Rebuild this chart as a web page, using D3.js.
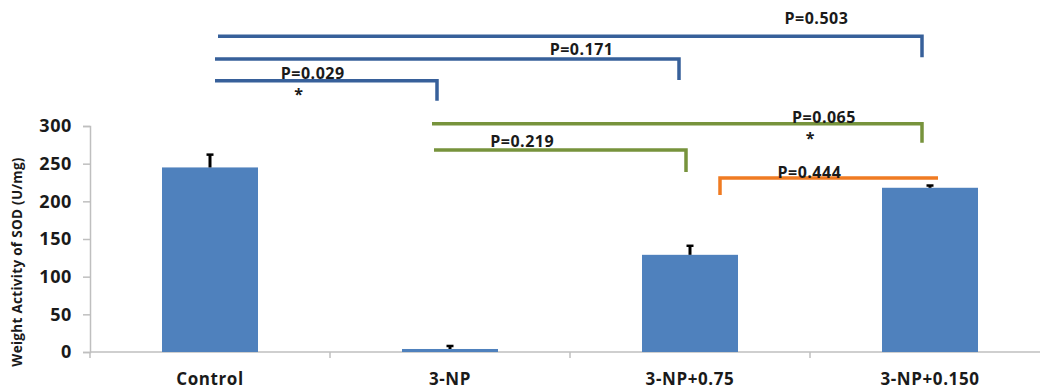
<!DOCTYPE html>
<html>
<head>
<meta charset="utf-8">
<script src="https://cdn.jsdelivr.net/npm/d3@7"></script>
<style>
  body { margin: 0; background: #fff; }
  text { font-family: "Open Sans", sans-serif; font-weight: bold; fill: #1a1a1a; }
</style>
</head>
<body>
<div id="chart"></div>
<script>
// data
var categories = ["Control", "3-NP", "3-NP+0.75", "3-NP+0.150"];
var sodValues = [245, 4, 129, 218];
var sodErrors = [17, 4, 12, 3];
var yTicks = [0, 50, 100, 150, 200, 250, 300];

// significance brackets: group pairs, p values, level (in U/mg units), star
var bracketFrom = ["Control", "Control", "Control", "3-NP", "3-NP", "3-NP+0.75"];
var bracketTo = ["3-NP+0.150", "3-NP+0.75", "3-NP", "3-NP+0.150", "3-NP+0.75", "3-NP+0.150"];
var bracketP = ["P=0.503", "P=0.171", "P=0.029", "P=0.065", "P=0.219", "P=0.444"];
var bracketLevel = [419, 389, 360, 303, 268, 231];
var bracketStar = [false, false, true, true, false, false];

// drawing layout for brackets (pixel insets, drop side, label placement)
var bracketLayout = [
  {color: "#37609a", x0: 8, x1: -8, drop: "right", len: 21, frac: 0.85, dy: -12},
  {color: "#37609a", x0: 5, x1: -11, drop: "right", len: 21, frac: 0.79, dy: -4},
  {color: "#37609a", x0: 5, x1: -13, drop: "right", len: 20, frac: 0.44, dy: -2},
  {color: "#77933c", x0: -18, x1: -8, drop: "right", len: 19, frac: 0.80, dy: -1},
  {color: "#77933c", x0: -16, x1: -4, drop: "right", len: 22, frac: 0.35, dy: -3},
  {color: "#f07b22", x0: 30, x1: 8, drop: "left", len: 17, frac: 0.41, dy: 0}
];

var width = 1040, height = 389;

var svg = d3.select("#chart").append("svg")
    .attr("width", width)
    .attr("height", height);

var x = d3.scaleBand()
    .domain(categories)
    .range([90, 1050])
    .paddingInner(0.6)
    .paddingOuter(0.3);

var y = d3.scaleLinear()
    .domain([0, 300])
    .range([352, 126]);

function center(c) { return x(c) + x.bandwidth() / 2; }

// y axis
var yAxis = svg.append("g")
    .attr("transform", "translate(90,0)")
    .call(d3.axisLeft(y).tickValues(yTicks).tickSize(7).tickPadding(11));
yAxis.select(".domain").attr("stroke", "#bfbfbf").attr("stroke-width", 1.5);
yAxis.selectAll(".tick line").attr("stroke", "#bfbfbf").attr("stroke-width", 1.5);
yAxis.selectAll(".tick text")
    .style("font-size", "18px")
    .style("letter-spacing", "0.6px")
    .attr("fill", "#1a1a1a");

// x axis line and category boundary ticks
svg.append("line")
    .attr("x1", 90).attr("x2", width)
    .attr("y1", y(0)).attr("y2", y(0))
    .attr("stroke", "#bfbfbf").attr("stroke-width", 1.5);

svg.selectAll(".xtick")
    .data(categories)
    .enter().append("line")
    .attr("class", "xtick")
    .attr("x1", function(d) { return center(d) - x.step() / 2; })
    .attr("x2", function(d) { return center(d) - x.step() / 2; })
    .attr("y1", y(0)).attr("y2", y(0) + 6)
    .attr("stroke", "#bfbfbf").attr("stroke-width", 1.5);

svg.selectAll(".xlabel")
    .data(categories)
    .enter().append("text")
    .attr("class", "xlabel")
    .attr("x", center)
    .attr("y", 385)
    .attr("text-anchor", "middle")
    .style("font-size", "17px")
    .style("letter-spacing", "0.6px")
    .text(function(d) { return d; });

// y title
svg.append("text")
    .attr("transform", "translate(22,262) rotate(-90)")
    .attr("text-anchor", "middle")
    .style("font-size", "13.5px")
    .style("letter-spacing", "0.3px")
    .text("Weight Activity of SOD (U/mg)");

// bars
svg.selectAll(".bar")
    .data(sodValues)
    .enter().append("rect")
    .attr("class", "bar")
    .attr("x", function(d, i) { return x(categories[i]); })
    .attr("width", x.bandwidth())
    .attr("y", function(d) { return y(d); })
    .attr("height", function(d) { return y(0) - y(d); })
    .attr("fill", "#4f81bd");

// error bars (upper only)
var err = svg.selectAll(".err")
    .data(sodValues)
    .enter().append("g").attr("class", "err");
err.append("line")
    .attr("x1", function(d, i) { return center(categories[i]); })
    .attr("x2", function(d, i) { return center(categories[i]); })
    .attr("y1", function(d) { return y(d); })
    .attr("y2", function(d, i) { return y(d + sodErrors[i]); })
    .attr("stroke", "#000").attr("stroke-width", 3);
err.append("line")
    .attr("x1", function(d, i) { return center(categories[i]) - 3.5; })
    .attr("x2", function(d, i) { return center(categories[i]) + 3.5; })
    .attr("y1", function(d, i) { return y(d + sodErrors[i]); })
    .attr("y2", function(d, i) { return y(d + sodErrors[i]); })
    .attr("stroke", "#000").attr("stroke-width", 2.5);

// significance brackets
bracketP.forEach(function(p, i) {
  var L = bracketLayout[i];
  var xa = center(bracketFrom[i]) + L.x0;
  var xb = center(bracketTo[i]) + L.x1;
  var yy = y(bracketLevel[i]);
  var pts = L.drop === "right"
      ? [[xa, yy], [xb, yy], [xb, yy + L.len]]
      : [[xa, yy + L.len], [xa, yy], [xb, yy]];
  svg.append("path")
      .attr("d", d3.line()(pts))
      .attr("fill", "none")
      .attr("stroke", L.color)
      .attr("stroke-width", 3.5);
  var lx = xa + (xb - xa) * L.frac;
  svg.append("text")
      .attr("x", lx)
      .attr("y", yy + L.dy)
      .attr("text-anchor", "middle")
      .style("font-size", "16px")
      .style("letter-spacing", "0.5px")
      .text(p);
  if (bracketStar[i]) {
    svg.append("text")
        .attr("x", lx - 14)
        .attr("y", yy + L.dy + 21)
        .attr("text-anchor", "middle")
        .style("font-size", "16px")
        .text("*");
  }
});
</script>
</body>
</html>
